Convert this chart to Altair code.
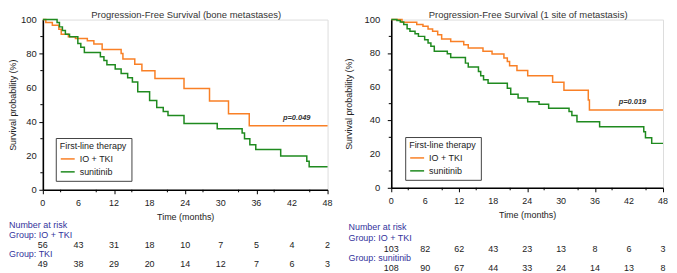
import altair as alt
import pandas as pd

FONT = "Liberation Sans"
ORANGE = "#f98026"
GREEN = "#1f8a1f"
BLUE = "#33339c"
GROUPS = ["IO + TKI", "sunitinib"]

# ---------- Left panel: bone metastases ----------
bone_io_t = [0, 0.5, 1.6, 2.7, 3.1, 4.3, 5.5, 7.5, 8.6, 10.0, 13.2, 13.5, 15.5, 16.7, 18.9, 23.8, 28.1, 31.3, 34.8, 48]
bone_io_s = [100, 98.2, 96.7, 94.3, 91.4, 89.9, 88.9, 87.5, 85.6, 82.4, 80.0, 76.8, 73.8, 69.9, 65.4, 59.5, 52.2, 44.6, 37.6, 37.6]
bone_su_t = [0, 2.4, 2.8, 3.3, 3.8, 4.5, 5.9, 6.4, 7.0, 9.7, 10.3, 10.8, 12.2, 13.2, 14.3, 15.1, 16.0, 18.0, 19.2, 20.3, 21.1, 23.8, 29.4, 33.6, 34.0, 34.9, 35.9, 40.1, 44.5, 44.9, 48]
bone_su_s = [100, 98.2, 95.7, 93.5, 91.4, 89.9, 86.0, 83.7, 80.7, 78.2, 75.9, 73.5, 71.0, 68.3, 65.8, 63.3, 57.6, 52.5, 48.3, 46.0, 43.6, 38.9, 35.8, 33.3, 30.0, 26.5, 23.6, 19.9, 16.8, 13.5, 13.5]
bone_risk_t = [0, 6, 12, 18, 24, 30, 36, 42, 48]
bone_risk_io = [56, 43, 31, 18, 10, 7, 5, 4, 2]
bone_risk_tki = [49, 38, 29, 20, 14, 12, 7, 6, 3]
bone_title = "Progression-Free Survival (bone metastases)"
bone_p = "p=0.049"
bone_p_pos = (42.8, 42.0)
bone_group_labels = ["Group: IO + TKI", "Group: TKI"]

# ---------- Right panel: 1 site of metastasis ----------
one_io_t = [0, 1.9, 4.5, 5.6, 6.5, 7.3, 8.2, 8.9, 10.5, 12.8, 13.6, 16.2, 17.8, 19.9, 20.5, 20.9, 22.2, 24.1, 28.5, 30.5, 34.8, 35.0, 48]
one_io_s = [100, 98.4, 97.0, 96.0, 94.4, 93.0, 91.0, 88.5, 87.0, 85.0, 83.1, 81.1, 79.5, 77.1, 75.1, 72.5, 69.7, 66.6, 62.7, 58.0, 52.2, 46.3, 46.3]
one_su_t = [0, 1.0, 1.6, 2.2, 2.8, 3.3, 4.2, 4.8, 5.9, 6.5, 7.0, 7.6, 9.9, 10.5, 13.1, 13.6, 15.4, 15.8, 16.3, 17.1, 20.5, 21.1, 22.4, 24.1, 26.1, 27.8, 31.4, 31.9, 32.8, 36.8, 44.6, 44.9, 46.0, 48]
one_su_s = [100, 99.5, 98.5, 97.0, 94.6, 93.0, 91.5, 90.0, 88.0, 86.1, 84.1, 81.1, 79.7, 77.5, 74.1, 71.8, 69.1, 66.6, 64.2, 62.2, 59.2, 55.6, 53.3, 51.2, 49.7, 47.3, 45.3, 42.9, 39.3, 36.3, 33.3, 29.7, 26.4, 26.4]
one_risk_t = [0, 6, 12, 18, 24, 30, 36, 42, 48]
one_risk_io = [103, 82, 62, 43, 23, 13, 8, 6, 3]
one_risk_su = [108, 90, 67, 44, 33, 24, 14, 13, 8]
one_title = "Progression-Free Survival (1 site of metastasis)"
one_p = "p=0.019"
one_p_pos = (42.6, 50.9)
one_group_labels = ["Group: IO + TKI", "Group: sunitinib"]

x_ticks = [0, 6, 12, 18, 24, 30, 36, 42, 48]
x_minor = [3, 9, 15, 21, 27, 33, 39, 45]
y_ticks = [0, 20, 40, 60, 80, 100]
y_minor = [10, 30, 50, 70, 90]


def panel(io_t, io_s, su_t, su_s, risk_t, risk_a, risk_b, title, p_text, p_pos,
          group_labels, width, height, ylab_x, title_pad,
          legend_xy, table_rows, label_x):
    curves = pd.DataFrame({
        "t": io_t + su_t,
        "s": io_s + su_s,
        "g": [GROUPS[0]] * len(io_t) + [GROUPS[1]] * len(su_t),
    })
    xs = alt.Scale(domain=[0, 48], nice=False, zero=False)
    ys = alt.Scale(domain=[0, 100], nice=False)
    lines = alt.Chart(curves).mark_line(interpolate="step-after", strokeWidth=1.5).encode(
        x=alt.X("t:Q", scale=xs, axis=alt.Axis(
            values=x_ticks, title="Time (months)", labels=False, titleFontSize=9,
            titleFontWeight="normal", titlePadding=18, tickSize=4,
            domainWidth=1.6, domainColor="black", tickColor="black", grid=False,
            titleFont=FONT, titleColor="#222")),
        y=alt.Y("s:Q", scale=ys, axis=alt.Axis(
            values=y_ticks, title="Survival probability (%)", labels=False,
            titleFontSize=9, titleFontWeight="normal",
            titlePadding=title_pad, tickSize=4, domainWidth=1.6, domainColor="black",
            tickColor="black", grid=False, titleFont=FONT, titleColor="#222")),
        color=alt.Color("g:N", scale=alt.Scale(domain=GROUPS, range=[ORANGE, GREEN]),
                        legend=alt.Legend(
                            title="First-line therapy", orient="none",
                            legendX=legend_xy[0], legendY=legend_xy[1],
                            strokeColor="#444", fillColor="white", padding=4,
                            titleFontSize=9, titleFontWeight="normal", titleFont=FONT,
                            titleColor="#222", labelFontSize=9, labelFont=FONT,
                            labelColor="#222", symbolType="stroke", symbolSize=196,
                            symbolStrokeWidth=1.5, titlePadding=0, rowPadding=-2,
                            labelOffset=4)),
        detail="g:N",
    )
    xminor = alt.Chart(pd.DataFrame({"t": x_minor})).mark_rule(color="black", strokeWidth=1).encode(
        x=alt.X("t:Q", scale=xs), y=alt.value(height), y2=alt.value(height + 2.5))
    yminor = alt.Chart(pd.DataFrame({"s": y_minor})).mark_rule(color="black", strokeWidth=1).encode(
        y=alt.Y("s:Q", scale=ys), x=alt.value(0), x2=alt.value(-2.5))
    xlabels = alt.Chart(pd.DataFrame({"t": x_ticks})).mark_text(
        baseline="middle", align="center", fontSize=9, font=FONT, color="#222").encode(
        x=alt.X("t:Q", scale=xs), y=alt.value(height + 13.5), text="t:Q")
    ylabels = alt.Chart(pd.DataFrame({"s": y_ticks})).mark_text(
        baseline="middle", align="right", fontSize=9.5, font=FONT, color="#222").encode(
        y=alt.Y("s:Q", scale=ys), x=alt.value(ylab_x), text="s:Q")
    ptxt = alt.Chart(pd.DataFrame({"t": [p_pos[0]], "s": [p_pos[1]], "p": [p_text]})).mark_text(
        fontSize=7.5, fontStyle="italic", fontWeight="bold", font=FONT, color="#333").encode(
        x=alt.X("t:Q", scale=xs), y=alt.Y("s:Q", scale=ys), text="p:N")

    one = pd.DataFrame({"k": [0]})
    ttl = alt.Chart(one).mark_text(
        align="center", baseline="top", fontSize=9.5, font=FONT, color="#333").encode(
        x=alt.value(width / 2 + 1), y=alt.value(-10), text=alt.value(title))

    layers = [lines, xminor, yminor, xlabels, ylabels, ptxt, ttl]
    heads = ["Number at risk", group_labels[0], group_labels[1]]
    for lab, yy in zip(heads, [table_rows[0], table_rows[1], table_rows[3]]):
        layers.append(alt.Chart(one).mark_text(
            align="left", baseline="middle", fontSize=9, font=FONT, color=BLUE).encode(
            x=alt.value(label_x), y=alt.value(yy), text=alt.value(lab)))
    for vals, yy in [(risk_a, table_rows[2]), (risk_b, table_rows[4])]:
        layers.append(alt.Chart(pd.DataFrame({"t": risk_t, "n": vals})).mark_text(
            align="center", baseline="middle", fontSize=9, font=FONT, color="#222").encode(
            x=alt.X("t:Q", scale=xs), y=alt.value(yy), text="n:Q"))

    return alt.layer(*layers).properties(width=width, height=height)


left = panel(bone_io_t, bone_io_s, bone_su_t, bone_su_s, bone_risk_t, bone_risk_io,
             bone_risk_tki, bone_title, bone_p, bone_p_pos, bone_group_labels,
             286, 171, -6, 21, (13, 119), [206, 216, 226, 236, 246], -34)
right = panel(one_io_t, one_io_s, one_su_t, one_su_s, one_risk_t, one_risk_io,
              one_risk_su, one_title, one_p, one_p_pos, one_group_labels,
              273, 169, -11, 33, (14, 118), [208, 219, 230, 240, 250], -43)

chart = alt.hconcat(left, right, spacing=11).resolve_scale(
    color="independent").resolve_legend(color="independent").configure_view(
    stroke=None).configure(background="white", padding=0)

chart.save("out.html", embed_options={"renderer": "svg", "actions": False})
